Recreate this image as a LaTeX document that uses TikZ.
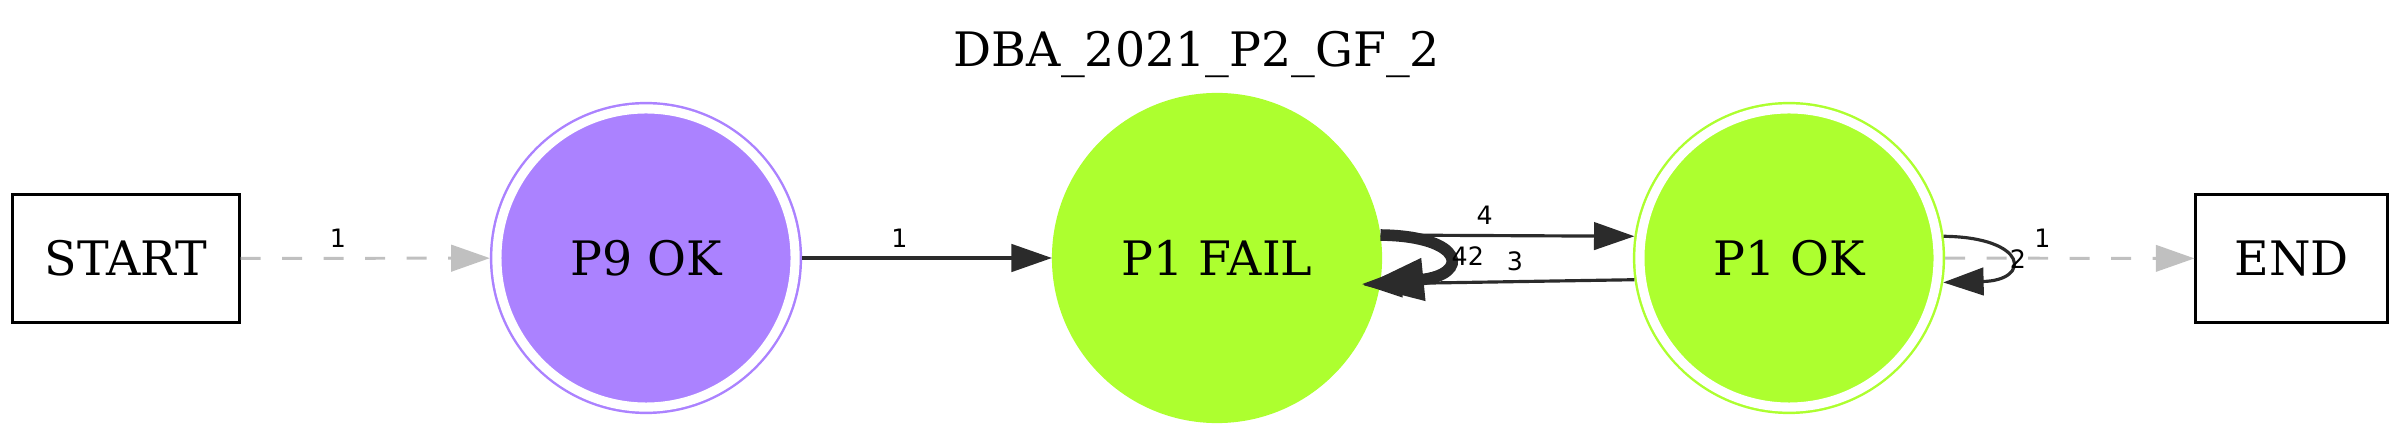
\documentclass[tikz,border=0pt]{standalone}
\usepackage{fontspec}
\setmainfont{DejaVu Serif}
\newfontfamily\lblfont{DejaVu Sans}
\usetikzlibrary{arrows.meta}
\definecolor{mypurple}{RGB}{171,130,255}
\definecolor{mygreen}{RGB}{173,255,47}
\definecolor{mygray}{RGB}{192,192,192}
\definecolor{mydark}{RGB}{43,43,43}

\begin{document}
\begin{tikzpicture}[x=0.01cm, y=-0.01cm,
  every node/.style={font=\fontsize{13.5}{16}\selectfont},
  box/.style={draw, line width=0.85pt, rectangle, minimum height=1.27cm, inner sep=0pt},
  okstate/.style={circle, fill=#1, draw=#1, line width=0.7pt, double=white, double distance=2.6pt, minimum size=2.98cm, inner sep=0pt, outer sep=0.07cm},
  failstate/.style={circle, fill=#1, minimum size=3.3cm, inner sep=0pt, outer sep=0pt},
  lbl/.style={font=\lblfont\fontsize{7.2}{8}\selectfont, text=black, inner sep=0pt},
  trans/.style={mydark, line width=0.9pt, -{Triangle[length=11.5pt,width=7.8pt]}},
  ghost/.style={mygray, line width=0.85pt, dash pattern=on 5.7pt off 6.1pt, -{Triangle[length=11pt,width=7.5pt]}}]
  \useasboundingbox (0,0) rectangle (2400,437);

  \node[anchor=base] (title) at (1197,67) {DBA\_2021\_P2\_GF\_2};

  \node[box, minimum width=2.26cm] (start) at (126,258.5) {START};
  \node[okstate=mypurple] (p9ok) at (646,258) {P9 OK};
  \node[failstate=mygreen] (p1fail) at (1217,258) {P1 FAIL};
  \node[okstate=mygreen] (p1ok) at (1789,258) {P1 OK};
  \node[box, minimum width=1.91cm] (stop) at (2291.5,258.5) {END};

  \draw[ghost] (start) -- (p9ok) node[lbl, pos=0.39, above=0.09cm] {1};
  \draw[trans] (p9ok) -- (p1fail) node[lbl, pos=0.39, above=0.09cm] {1};
  \draw[trans] (p1fail.8) -- (p1ok.172) node[lbl, pos=0.41, above=0.09cm] {4};
  \draw[trans, shorten >=-0.18cm] (p1ok.-172) -- (p1fail.-9) node[lbl, pos=0.47, above=0.09cm] {3};
  \draw[trans, line width=3.3pt, -{Triangle[length=17.5pt,width=11.3pt]}, shorten >=-0.18cm]
    (p1fail.8) .. controls +(85,1) and +(90,-9) .. (p1fail.-9) node[lbl, pos=0.5, right] {42};
  \draw[ghost] (p1ok) -- (stop) node[lbl, pos=0.39, above=0.09cm] {1};
  \draw[trans] (p1ok.8) .. controls +(85,1) and +(88,-2) .. (p1ok.-9) node[lbl, pos=0.5, right] {2};
\end{tikzpicture}
\end{document}
